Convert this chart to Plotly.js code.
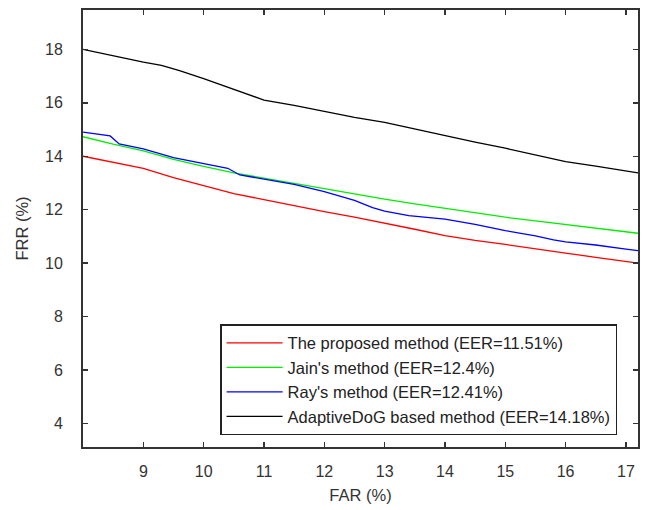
<!DOCTYPE html>
<html>
<head>
<meta charset="utf-8">
<script src="https://cdn.plot.ly/plotly-3.0.1.min.js"></script>
<style>html,body{margin:0;padding:0;background:#fff;}#chart{width:649px;height:510px;}</style>
</head>
<body>
<div id="chart"></div>
<script>
// Proposed method
const farProposed = [8.0, 8.5, 9.0, 9.5, 10.0, 10.5, 11.0, 11.5, 12.0, 12.5, 13.0, 13.5, 14.0, 14.5, 15.0, 15.5, 16.0, 16.5, 17.0, 17.2];
const frrProposed = [14.0, 13.78, 13.55, 13.2, 12.9, 12.6, 12.38, 12.15, 11.93, 11.72, 11.5, 11.27, 11.03, 10.85, 10.7, 10.55, 10.38, 10.22, 10.07, 10.0];
// Jain's method
const farJain = [8.0, 8.5, 9.0, 9.5, 10.0, 10.5, 11.0, 11.5, 12.0, 12.5, 13.0, 13.5, 14.0, 14.5, 15.0, 15.5, 16.0, 16.5, 17.0, 17.2];
const frrJain = [14.73, 14.45, 14.2, 13.88, 13.62, 13.38, 13.18, 12.98, 12.78, 12.6, 12.4, 12.22, 12.05, 11.88, 11.72, 11.58, 11.45, 11.32, 11.18, 11.12];
// Ray's method
const farRay = [8.0, 8.3, 8.45, 8.6, 9.0, 9.5, 10.0, 10.4, 10.6, 11.0, 11.5, 12.0, 12.5, 12.8, 13.0, 13.4, 14.0, 14.5, 15.0, 15.5, 15.8, 16.0, 16.5, 17.0, 17.2];
const frrRay = [14.9, 14.82, 14.76, 14.46, 14.28, 13.95, 13.72, 13.55, 13.3, 13.15, 12.95, 12.68, 12.35, 12.08, 11.95, 11.78, 11.65, 11.45, 11.22, 11.02, 10.87, 10.8, 10.68, 10.53, 10.47];
// AdaptiveDoG based method
const farDoG = [8.0, 8.5, 9.0, 9.3, 9.6, 10.0, 10.5, 11.0, 11.5, 12.0, 12.5, 13.0, 13.5, 14.0, 14.5, 15.0, 15.5, 16.0, 16.5, 17.0, 17.2];
const frrDoG = [18.0, 17.75, 17.52, 17.4, 17.2, 16.9, 16.5, 16.1, 15.9, 15.68, 15.45, 15.27, 15.02, 14.78, 14.53, 14.3, 14.05, 13.8, 13.63, 13.45, 13.38];

const seriesNames = [
  "The proposed method (EER=11.51%)",
  "Jain's method (EER=12.4%)",
  "Ray's method (EER=12.41%)",
  "AdaptiveDoG based method (EER=14.18%)"
];
const xTicks = [9, 10, 11, 12, 13, 14, 15, 16, 17];
const yTicks = [4, 6, 8, 10, 12, 14, 16, 18];

const colors = ["#ff0000", "#00ee00", "#0000ff", "#000000"];
const xs = [farProposed, farJain, farRay, farDoG];
const ys = [frrProposed, frrJain, frrRay, frrDoG];

const traces = xs.map((x, i) => ({
  x: x, y: ys[i], type: 'scatter', mode: 'lines', name: seriesNames[i],
  legendgroup: 'g' + i,
  line: {color: colors[i], width: 1.3}
}));

const FONT = 'Liberation Sans, Arial, sans-serif';
const axisCommon = {
  showgrid: false, zeroline: false, showline: true, linecolor: '#333', linewidth: 2,
  mirror: 'ticks', ticks: 'inside', ticklen: 5, tickwidth: 1.5, tickcolor: '#333',
  tickfont: {family: FONT, size: 16, color: '#333'}
};

const layout = {
  width: 649, height: 510,
  margin: {l: 83, r: 11, t: 10, b: 63},
  paper_bgcolor: '#fff', plot_bgcolor: '#fff',
  showlegend: true,
  xaxis: Object.assign({}, axisCommon, {
    range: [8.0, 17.2], tickvals: xTicks, ticktext: xTicks.map(String),
    ticklabelstandoff: 9,
    title: {text: 'FAR (%)', font: {family: FONT, size: 16.5, color: '#333'}, standoff: 10}
  }),
  yaxis: Object.assign({}, axisCommon, {
    range: [3.125, 19.47], tickvals: yTicks, ticktext: yTicks.map(String),
    ticklabelstandoff: 15,
    title: {text: 'FRR (%)', font: {family: FONT, size: 16.5, color: '#333'}, standoff: 12}
  }),
  legend: {
    x: 0.247, y: 0.281, xanchor: 'left', yanchor: 'top',
    bgcolor: '#fff', bordercolor: '#222', borderwidth: 1.5,
    font: {family: FONT, size: 16.5, color: '#222'},
    itemwidth: 56,
    tracegroupgap: 0
  }
};

Plotly.newPlot('chart', traces, layout, {displayModeBar: false, staticPlot: true});
</script>
</body>
</html>
